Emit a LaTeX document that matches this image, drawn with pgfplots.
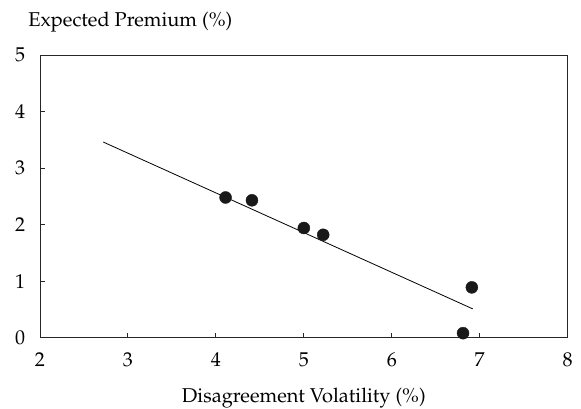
\documentclass[border=0pt]{standalone}
\usepackage[T1]{fontenc}
\usepackage{mathpazo}
\usepackage{pgfplots}
\pgfplotsset{compat=1.18}
\begin{document}
\fontsize{20}{24}\selectfont
\begin{tikzpicture}
\path[use as bounding box] (-40pt,-71.3pt) rectangle (541pt,337.7pt);
\begin{axis}[
 at={(0,0)}, anchor=south west,
 scale only axis, width=527.7pt, height=282.7pt,
 xmin=2,xmax=8,ymin=0,ymax=5,
 xtick={2,...,8}, ytick={0,...,5},
 tick align=inside, xtick pos=bottom, ytick pos=left,
 major tick length=5pt,
 axis line style={line width=0.9pt, black!85},
 tick style={line width=0.9pt, black!85},
 xticklabel style={yshift=-8pt},
 yticklabel style={xshift=-8pt},
 clip=false,
]
\addplot[only marks, mark=*, mark size=6pt, black!90] coordinates {
(4.11,2.48) (4.41,2.43) (5.00,1.94) (5.22,1.82) (6.91,0.89) (6.81,0.08)};
\addplot[black, line width=0.8pt, no marks] coordinates {(2.72,3.46) (6.92,0.51)};
\node[anchor=base west] at (axis description cs:-0.035,1.10) {Expected Premium (\%)};
\node[anchor=base] at (axis description cs:0.5,-0.229) {Disagreement Volatility (\%)};
\end{axis}
\end{tikzpicture}
\end{document}
